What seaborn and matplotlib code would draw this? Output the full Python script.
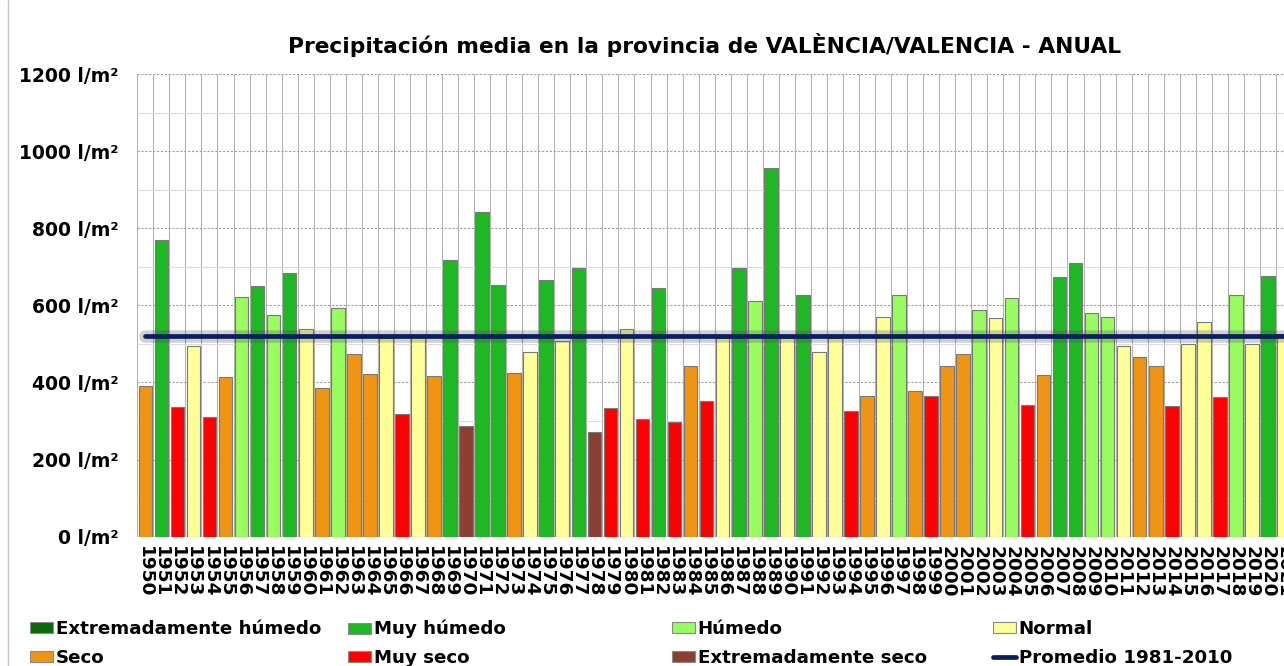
import numpy as np
import pandas as pd
import seaborn as sns
import matplotlib.pyplot as plt
import matplotlib.patheffects as pe
from matplotlib.patches import Patch
from matplotlib.lines import Line2D
from matplotlib.ticker import MultipleLocator, FixedLocator, FuncFormatter

# datos (l/m2 por año)
anios = list(range(1950, 2022))
precip = [392, 769, 337, 494, 311, 415, 621, 651, 574, 685,
          539, 386, 592, 475, 421, 515, 319, 518, 417, 717,
          288, 843, 653, 424, 478, 666, 507, 698, 271, 334,
          538, 304, 645, 298, 443, 353, 515, 698, 610, 957,
          515, 628, 478, 515, 325, 364, 571, 628, 377, 364,
          443, 475, 587, 566, 618, 342, 419, 674, 710, 579,
          571, 494, 465, 443, 338, 499, 558, 363, 628, 501,
          676, 525]
categoria = ['S', 'MH', 'MS', 'N', 'MS', 'S', 'H', 'MH', 'H', 'MH',
             'N', 'S', 'H', 'S', 'S', 'N', 'MS', 'N', 'S', 'MH',
             'ES', 'MH', 'MH', 'S', 'N', 'MH', 'N', 'MH', 'ES', 'MS',
             'N', 'MS', 'MH', 'MS', 'S', 'MS', 'N', 'MH', 'H', 'MH',
             'N', 'MH', 'N', 'N', 'MS', 'S', 'N', 'H', 'S', 'MS',
             'S', 'S', 'H', 'N', 'H', 'MS', 'S', 'MH', 'MH', 'H',
             'H', 'N', 'S', 'S', 'MS', 'N', 'N', 'MS', 'H', 'N',
             'MH', 'N']
promedio = 520

cat_orden = ['EH', 'MH', 'H', 'N', 'S', 'MS', 'ES']
cat_nombre = {'EH': 'Extremadamente húmedo', 'MH': 'Muy húmedo', 'H': 'Húmedo',
              'N': 'Normal', 'S': 'Seco', 'MS': 'Muy seco',
              'ES': 'Extremadamente seco'}
colores = {'EH': '#0b6b0b', 'MH': '#1db823', 'H': '#99fc5f', 'N': '#ffff99',
           'S': '#ef9413', 'MS': '#ff0000', 'ES': '#8b3f33'}
color_prom = '#0a1f5f'

df = pd.DataFrame({'anio': [str(a) for a in anios], 'precip': precip, 'cat': categoria})

sns.set_style('white')
plt.rcParams['font.family'] = ['DejaVu Sans']
plt.rcParams['text.color'] = 'black'
plt.rcParams['xtick.labelcolor'] = 'black'
plt.rcParams['ytick.labelcolor'] = 'black'

W, H = 1284, 666
fig = plt.figure(figsize=(W / 100, H / 100), dpi=100)
slot = 16.07
x0, ybot, ytop = 137.3, 536.7, 74.0
ax = fig.add_axes([x0 / W, (H - ybot) / H, (W - x0) / W, (ybot - ytop) / H])

sns.barplot(data=df, x='anio', y='precip', hue='cat', hue_order=cat_orden,
            order=[str(a) for a in anios], palette=colores, dodge=False,
            saturation=1, width=0.85, edgecolor='#7a7a7a', linewidth=0.8,
            errorbar=None, legend=False, ax=ax)

n = len(anios)
ax.plot(np.arange(n), [promedio] * n, color=color_prom, lw=3.4, zorder=5,
        solid_capstyle='round',
        path_effects=[pe.Stroke(linewidth=9, foreground='#444444', alpha=0.25),
                      pe.Normal()])

ax.set_xlim(-0.5, -0.5 + (W - x0) / slot)
ax.set_ylim(0, 1200)
ax.set_xlabel('')
ax.set_ylabel('')
for s in ax.spines.values():
    s.set_visible(False)

ax.set_axisbelow(True)
ax.set_xticks(np.arange(n))
ax.set_xticklabels([str(a) for a in anios], rotation=270, fontsize=13.3,
                   fontweight='bold')
ax.xaxis.set_minor_locator(FixedLocator(np.arange(-0.5, n, 1)))
ax.tick_params(axis='x', which='major', length=0, pad=7)
ax.tick_params(axis='x', which='minor', length=6, color='#a0a0a0', width=0.8)

ax.yaxis.set_major_locator(MultipleLocator(200))
ax.yaxis.set_minor_locator(MultipleLocator(100))
ax.yaxis.set_major_formatter(FuncFormatter(lambda v, p: f'{int(v)} l/m²'))
ax.tick_params(axis='y', which='major', length=6.5, color='#a0a0a0', width=0.8,
               pad=7, labelsize=13.5)
ax.tick_params(axis='y', which='minor', length=0)
for t in ax.get_yticklabels():
    t.set_fontweight('bold')

ax.grid(which='minor', axis='x', color='#b4b4b4', lw=0.8)
ax.grid(which='major', axis='y', color='#a0a0a0', lw=0.8, ls=(0, (2, 1.5)))
ax.grid(which='minor', axis='y', color='#dcdcdc', lw=0.8)

fig.text(0.549, 1 - 45 / H,
         'Precipitación media en la provincia de VALÈNCIA/VALENCIA - ANUAL',
         ha='center', va='center', fontsize=15.7, fontweight='bold')

# borde izquierdo del panel
fig.add_artist(Line2D([8 / W, 8 / W], [0, 1], color='#c8c8c8', lw=1))

# leyenda en 4 columnas fijas
def parche(c):
    return Patch(facecolor=colores[c], edgecolor='#8a8a8a', lw=0.8)

columnas = [
    [(parche('EH'), cat_nombre['EH']), (parche('S'), cat_nombre['S'])],
    [(parche('MH'), cat_nombre['MH']), (parche('MS'), cat_nombre['MS'])],
    [(parche('H'), cat_nombre['H']), (parche('ES'), cat_nombre['ES'])],
    [(parche('N'), cat_nombre['N']),
     (Line2D([], [], color=color_prom, lw=3.4), 'Promedio 1981-2010')],
]
col_x = [30, 348, 672, 993]
for xc, col in zip(col_x, columnas):
    fig.legend([h for h, _ in col], [l for _, l in col], loc='upper left',
               bbox_to_anchor=(xc / W, 1 - 620 / H), frameon=False,
               borderpad=0, borderaxespad=0, handlelength=1.25,
               handleheight=0.55, handletextpad=0.15, labelspacing=0.6,
               prop={'size': 13.15, 'weight': 'bold'})

fig.savefig('out.png', dpi=100)
